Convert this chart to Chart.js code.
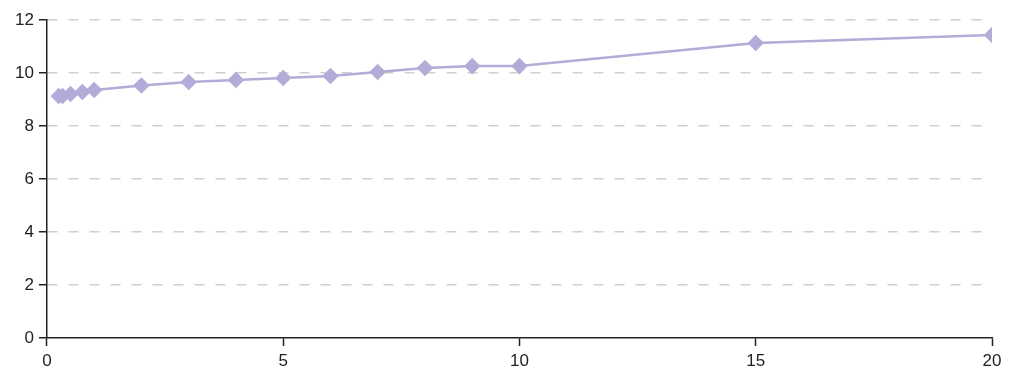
<!DOCTYPE html>
<html>
<head>
<meta charset="utf-8">
<script src="https://cdn.jsdelivr.net/npm/chart.js@4/dist/chart.umd.min.js"></script>
<style>
  html, body { margin: 0; padding: 0; background: #fff; }
  #wrap { width: 1013px; height: 371px; }
</style>
</head>
<body>
<div id="wrap"><canvas id="myChart"></canvas></div>
<script>
// values
const xValues = [0.25, 0.33, 0.5, 0.75, 1, 2, 3, 4, 5, 6, 7, 8, 9, 10, 15, 20];
const yValues = [9.13, 9.13, 9.21, 9.28, 9.36, 9.53, 9.66, 9.74, 9.81, 9.89, 10.04, 10.19, 10.26, 10.26, 11.13, 11.43];
const xTicks = [0, 5, 10, 15, 20];
const yTicks = [0, 2, 4, 6, 8, 10, 12];

const points = xValues.map((x, i) => ({ x: x, y: yValues[i] }));
const lineColor = '#b1acd8';
const tickFont = { family: 'Liberation Sans, Arial, sans-serif', size: 17, lineHeight: 1 };

const ctx = document.getElementById('myChart').getContext('2d');
const chart = new Chart(ctx, {
  type: 'line',
  data: {
    datasets: [
      {
        data: points,
        borderColor: lineColor,
        backgroundColor: lineColor,
        borderWidth: 2.5,
        pointStyle: 'rectRot',
        pointRadius: 6.5,
        pointHoverRadius: 6.5,
        tension: 0,
        fill: false,
      },
    ],
  },
  options: {
    responsive: true,
    maintainAspectRatio: false,
    animation: false,
    layout: { padding: { top: 20, right: 21, left: 10, bottom: -6 } },
    plugins: {
      legend: { display: false },
      tooltip: { enabled: false },
    },
    scales: {
      x: {
        type: 'linear',
        min: xTicks[0],
        max: xTicks[xTicks.length - 1],
        afterBuildTicks: (axis) => { axis.ticks = xTicks.map(v => ({ value: v })); },
        grid: {
          drawOnChartArea: false,
          drawTicks: true,
          tickLength: 8,
          tickColor: '#222',
          tickWidth: 1.5,
        },
        border: { display: true, color: '#222', width: 1.5 },
        ticks: {
          color: '#222',
          padding: 7,
          maxRotation: 0,
          font: tickFont,
        },
      },
      y: {
        min: yTicks[0],
        max: yTicks[yTicks.length - 1],
        afterBuildTicks: (axis) => { axis.ticks = yTicks.map(v => ({ value: v })); },
        grid: {
          color: (c) => (c.tick && c.tick.value === 0 ? 'rgba(0,0,0,0)' : '#cfcfcf'),
          lineWidth: 1.5,
          drawTicks: true,
          tickLength: 8,
          tickColor: '#222',
          tickWidth: 1.5,
        },
        border: { display: true, color: '#222', width: 1.5, dash: [10, 11] },
        ticks: {
          color: '#222',
          padding: 5,
          font: tickFont,
        },
      },
    },
  },
});
</script>
</body>
</html>
